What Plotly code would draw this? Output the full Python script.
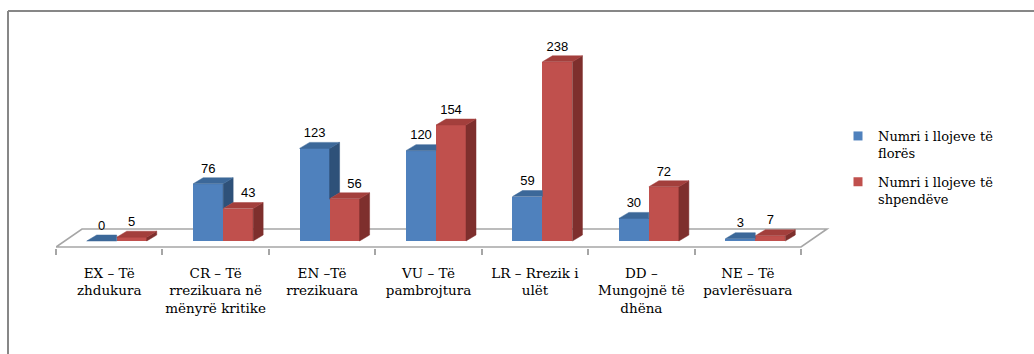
import plotly.graph_objects as go

# ---- data ----
categories = [
    "EX – Të<br>zhdukura",
    "CR – Të<br>rrezikuara në<br>mënyrë kritike",
    "EN –Të<br>rrezikuara",
    "VU – Të<br>pambrojtura",
    "LR – Rrezik i<br>ulët",
    "DD –<br>Mungojnë të<br>dhëna",
    "NE – Të<br>pavlerësuara",
]
flora_counts = [0, 76, 123, 120, 59, 30, 3]
bird_counts = [5, 43, 56, 154, 238, 72, 7]
series_names = ["Numri i llojeve të<br>florës", "Numri i llojeve të<br>shpendëve"]

# ---- geometry (pixels of the 1034x354 canvas) ----
W, H = 1034, 354
PLOT_L, PLOT_R, PLOT_T, PLOT_B = 56, 830, 20, 248
PX_PER_CAT = 106.43          # width of one category slot
PX_PER_VAL = 0.753           # pixels per counted species
ZERO_PX = 241                # where value 0 sits
x_range = [-0.5, -0.5 + (PLOT_R - PLOT_L) / PX_PER_CAT]
y_range = [-(PLOT_B - ZERO_PX) / PX_PER_VAL, (ZERO_PX - PLOT_T) / PX_PER_VAL]

DX = 10 / PX_PER_CAT         # depth offset of the 3-D prisms
DY = 6 / PX_PER_VAL
BAR_W = 30 / PX_PER_CAT
SHIFT = 7.5 / PX_PER_CAT     # bars stand mid-way into the floor depth

FLOOR_FRONT = -6 / PX_PER_VAL
FLOOR_BACK = 12 / PX_PER_VAL
FLOOR_DX = 26 / PX_PER_CAT

BLUE = dict(front="#4F81BD", top="#3C6899", side="#2E5179")
RED = dict(front="#C0504D", top="#A33F3C", side="#7E2F2D")
GRID = "#A6A6A6"
FRAME = "#878787"
SERIF = "DejaVu Serif"
SANS = "Liberation Sans"

idx = list(range(len(categories)))


def add_poly(xs, ys, px, py):
    xs.extend(px + [px[0], None])
    ys.extend(py + [py[0], None])


def faces(values, x_left, hide_right=None):
    """Top and side faces of a row of prisms; hide_right holds the values of
    the bars standing directly in front-right, which cover part of them."""
    tx, ty, sx, sy = [], [], [], []
    for i, v in enumerate(values):
        x0 = i + x_left
        x1 = x0 + BAR_W
        r = None if hide_right is None else hide_right[i]
        if r is None or r <= v:
            add_poly(tx, ty, [x0, x1, x1 + DX, x0 + DX], [v, v, v + DY, v + DY])
        else:
            add_poly(tx, ty, [x0, x1, x1, x0 + DX], [v, v, v + DY, v + DY])
        if r is None:
            add_poly(sx, sy, [x1, x1, x1 + DX, x1 + DX], [0, v, v + DY, DY])
        elif r < v:
            add_poly(sx, sy, [x1, x1, x1 + DX, x1 + DX], [r, v, v + DY, r + DY])
    return tx, ty, sx, sy


fig = go.Figure()

# front faces
for vals, offset, col, name, grp in [
    (flora_counts, SHIFT - BAR_W, BLUE, series_names[0], "a"),
    (bird_counts, SHIFT, RED, series_names[1], "b"),
]:
    fig.add_trace(go.Bar(
        x=idx, y=vals, width=BAR_W, offset=offset,
        marker=dict(color=col["front"], line=dict(width=0)),
        name=name, legendgroup=grp, showlegend=False, hoverinfo="skip",
    ))

# tops and sides
for vals, left, cover, col in [
    (flora_counts, SHIFT - BAR_W, bird_counts, BLUE),
    (bird_counts, SHIFT, None, RED),
]:
    tx, ty, sx, sy = faces(vals, left, cover)
    for xs, ys, c in [(sx, sy, col["side"]), (tx, ty, col["top"])]:
        if xs:
            fig.add_trace(go.Scatter(
                x=xs, y=ys, mode="lines", fill="toself", fillcolor=c,
                line=dict(width=0.5, color=c), showlegend=False,
                hoverinfo="skip",
            ))

# value labels; a bird label steps right when the flora bar beside it is taller
label_sets = [
    (flora_counts, [i + SHIFT - BAR_W / 2 for i in idx]),
    (bird_counts, [i + SHIFT + BAR_W / 2 + (DX if f > b else 0)
                   for i, f, b in zip(idx, flora_counts, bird_counts)]),
]
for vals, xs in label_sets:
    fig.add_trace(go.Scatter(
        x=xs, y=[v + DY + 2 / PX_PER_VAL for v in vals],
        mode="text", text=[str(v) for v in vals], textposition="top center",
        textfont=dict(family=SANS, size=13, color="black"),
        showlegend=False, hoverinfo="skip", cliponaxis=False,
    ))

# legend keys: small squares in the front-face colours
for col, name, grp in [(BLUE, series_names[0], "a"), (RED, series_names[1], "b")]:
    fig.add_trace(go.Scatter(
        x=[None], y=[None], mode="markers", name=name, legendgroup=grp,
        marker=dict(symbol="square", size=9, color=col["front"], line=dict(width=0)),
        hoverinfo="skip",
    ))

n = len(categories)
shapes = [
    # floor
    dict(type="path", xref="x", yref="y", layer="below",
         path=(f"M{-0.5},{FLOOR_FRONT} L{n - 0.5},{FLOOR_FRONT} "
               f"L{n - 0.5 + FLOOR_DX},{FLOOR_BACK} L{-0.5 + FLOOR_DX},{FLOOR_BACK} Z"),
         fillcolor="white", line=dict(color=GRID, width=1.6)),
    # chart frame
    dict(type="line", xref="paper", yref="paper",
         x0=(8 - PLOT_L) / (PLOT_R - PLOT_L), x1=(W - PLOT_L) / (PLOT_R - PLOT_L),
         y0=(PLOT_B - 11) / (PLOT_B - PLOT_T), y1=(PLOT_B - 11) / (PLOT_B - PLOT_T),
         line=dict(color=FRAME, width=2)),
    dict(type="line", xref="paper", yref="paper",
         x0=(8 - PLOT_L) / (PLOT_R - PLOT_L), x1=(8 - PLOT_L) / (PLOT_R - PLOT_L),
         y0=(PLOT_B - 11) / (PLOT_B - PLOT_T), y1=(PLOT_B - H) / (PLOT_B - PLOT_T),
         line=dict(color=FRAME, width=2)),
]

fig.update_layout(
    width=W, height=H,
    margin=dict(l=PLOT_L, r=W - PLOT_R, t=PLOT_T, b=H - PLOT_B, pad=0),
    paper_bgcolor="white", plot_bgcolor="rgba(0,0,0,0)",
    barmode="overlay", bargap=0,
    shapes=shapes,
    font=dict(family=SERIF, size=13.5, color="black"),
    xaxis=dict(
        range=x_range, showgrid=False, zeroline=False, showline=False,
        tickmode="array", tickvals=idx, ticktext=categories,
        ticks="", ticklabelstandoff=15,
        tickfont=dict(family=SERIF, size=13.5, color="black"),
        minor=dict(tickmode="array", tickvals=[i - 0.5 for i in range(n + 1)],
                   ticks="outside", ticklen=6, tickcolor=GRID, tickwidth=1.5,
                   showgrid=False),
        fixedrange=True,
    ),
    yaxis=dict(range=y_range, visible=False, fixedrange=True),
    legend=dict(
        x=(838 - PLOT_L) / (PLOT_R - PLOT_L), xanchor="left",
        y=(PLOT_B - 121) / (PLOT_B - PLOT_T), yanchor="top",
        valign="top", tracegroupgap=9, itemsizing="trace",
        font=dict(family=SERIF, size=13, color="black"),
        bgcolor="rgba(0,0,0,0)",
    ),
)

fig.write_html("out.html")
